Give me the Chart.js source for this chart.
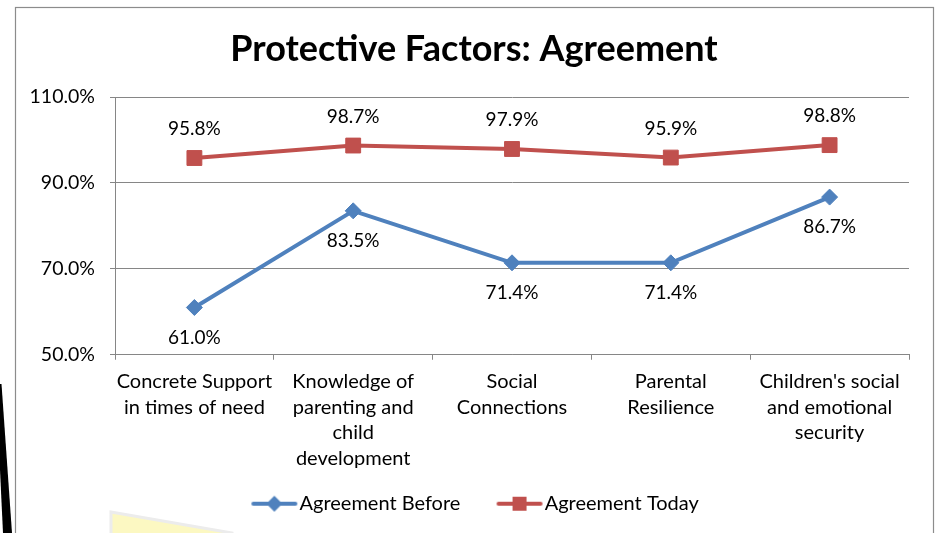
<!DOCTYPE html>
<html>
<head>
<meta charset="utf-8">
<script src="https://cdn.jsdelivr.net/npm/chart.js@4/dist/chart.umd.min.js"></script>
<style>
  html, body { margin: 0; padding: 0; background: #fff; }
  #wrap { position: relative; width: 939px; height: 533px; overflow: hidden; }
  #c { position: absolute; left: 0; top: 0; }
  #deco { position: absolute; left: 0; top: 0; pointer-events: none; }
</style>
</head>
<body>
<div id="wrap">
  <canvas id="c" width="939" height="533"></canvas>
  <svg id="deco" width="939" height="533">
    <rect x="15.5" y="7.5" width="918" height="560" fill="none" stroke="#8c8c8c" stroke-width="1.2"/>
    <polygon points="0,384 1.5,384 12,533 3,533 0,470" fill="#000"/>
    <polygon points="111,512 232,533 232,540 111,540" fill="#fcf8c2" stroke="#ececec" stroke-width="3"/>
  </svg>
</div>
<script>
const chartTitle = 'Protective Factors: Agreement';
const categories = [
  ['Concrete Support', 'in times of need'],
  ['Knowledge of', 'parenting and', 'child', 'development'],
  ['Social', 'Connections'],
  ['Parental', 'Resilience'],
  ["Children's social", 'and emotional', 'security']
];
const seriesNames = ['Agreement Before', 'Agreement Today'];
const agreementBefore = [61.0, 83.5, 71.4, 71.4, 86.7];
const agreementToday = [95.8, 98.7, 97.9, 95.9, 98.8];
const yTicks = [50, 70, 90, 110];

const BLUE = '#4f81bd';
const RED = '#c0504d';
const FONT = 'Lato, Calibri, Carlito, sans-serif';

// legend icon: line with marker, drawn at the right part of a wider transparent canvas
function legendIcon(color, kind) {
  const cv = document.createElement('canvas');
  cv.width = 100; cv.height = 18;
  const g = cv.getContext('2d');
  const a = 44;
  g.strokeStyle = color; g.lineWidth = 4; g.lineCap = 'round';
  g.beginPath(); g.moveTo(a + 2, 9); g.lineTo(a + 44, 9); g.stroke();
  g.fillStyle = color;
  g.beginPath();
  if (kind === 'diamond') {
    g.moveTo(a + 23, 1); g.lineTo(a + 31, 9); g.lineTo(a + 23, 17); g.lineTo(a + 15, 9);
  } else {
    g.rect(a + 16, 2, 14, 14);
  }
  g.closePath(); g.fill();
  return cv;
}
const icons = [legendIcon(BLUE, 'diamond'), legendIcon(RED, 'square')];

const dataLabelPlugin = {
  id: 'dataLabels',
  afterLayout(chart) {
    if (chart.titleBlock) { chart.titleBlock.left += 10; }
    if (chart.legend) { chart.legend.left -= 14; }
  },
  afterDatasetsDraw(chart) {
    const ctx = chart.ctx;
    ctx.save();
    ctx.font = '19px ' + FONT;
    ctx.fillStyle = '#000';
    ctx.textAlign = 'center';
    ctx.textBaseline = 'middle';
    chart.data.datasets.forEach((ds, di) => {
      const meta = chart.getDatasetMeta(di);
      meta.data.forEach((pt, i) => {
        const off = di === 0 ? 30 : -29;
        ctx.fillText(ds.data[i].toFixed(1) + '%', pt.x, pt.y + off);
      });
    });
    ctx.restore();
  }
};

new Chart(document.getElementById('c'), {
  type: 'line',
  data: {
    labels: categories,
    datasets: [
      {
        label: seriesNames[0],
        data: agreementBefore,
        borderColor: BLUE,
        backgroundColor: BLUE,
        borderWidth: 4,
        pointStyle: 'rectRot',
        pointRadius: 8,
        pointBorderWidth: 1,
        tension: 0
      },
      {
        label: seriesNames[1],
        data: agreementToday,
        borderColor: RED,
        backgroundColor: RED,
        borderWidth: 4,
        pointStyle: 'rect',
        pointRadius: 10.5,
        pointBorderWidth: 1,
        tension: 0
      }
    ]
  },
  plugins: [dataLabelPlugin],
  options: {
    responsive: false,
    animation: false,
    layout: { padding: { left: 29, right: 30, top: 0, bottom: 9.25 } },
    plugins: {
      title: {
        display: true,
        text: chartTitle,
        color: '#000',
        font: { family: FONT, size: 36, weight: 'bold', lineHeight: 1.2 },
        padding: { top: 27.4, bottom: 26.4 }
      },
      legend: {
        position: 'bottom',
        labels: {
          color: '#000',
          font: { family: FONT, size: 20 },
          usePointStyle: true,
          pointStyleWidth: 64.25,
          padding: 10,
          generateLabels(chart) {
            return chart.data.datasets.map((ds, i) => ({
              text: ds.label,
              pointStyle: icons[i],
              fillStyle: ds.borderColor,
              strokeStyle: ds.borderColor,
              lineWidth: 0,
              hidden: false,
              datasetIndex: i,
              fontColor: '#000'
            }));
          }
        }
      },
      tooltip: { enabled: false }
    },
    scales: {
      x: {
        offset: true,
        grid: { display: true, drawOnChartArea: false, drawTicks: true, tickLength: 5, offset: true, color: '#868686' },
        border: { display: true, color: '#868686', width: 1 },
        ticks: {
          color: '#000',
          font: { family: FONT, size: 20, lineHeight: 1.28 },
          padding: 9,
          maxRotation: 0,
          autoSkip: false
        },
        afterFit(scale) { scale.height = 129; }
      },
      y: {
        min: 50,
        max: 110,
        afterBuildTicks(scale) { scale.ticks = yTicks.map(v => ({ value: v })); },
        grid: { color: '#868686', tickLength: 5, drawTicks: true },
        border: { display: true, color: '#868686', width: 1 },
        ticks: {
          color: '#000',
          font: { family: FONT, size: 19.5 },
          padding: 15,
          callback: v => v.toFixed(1) + '%'
        },
        afterFit(scale) { scale.width = 86; }
      }
    }
  }
});
</script>
</body>
</html>
